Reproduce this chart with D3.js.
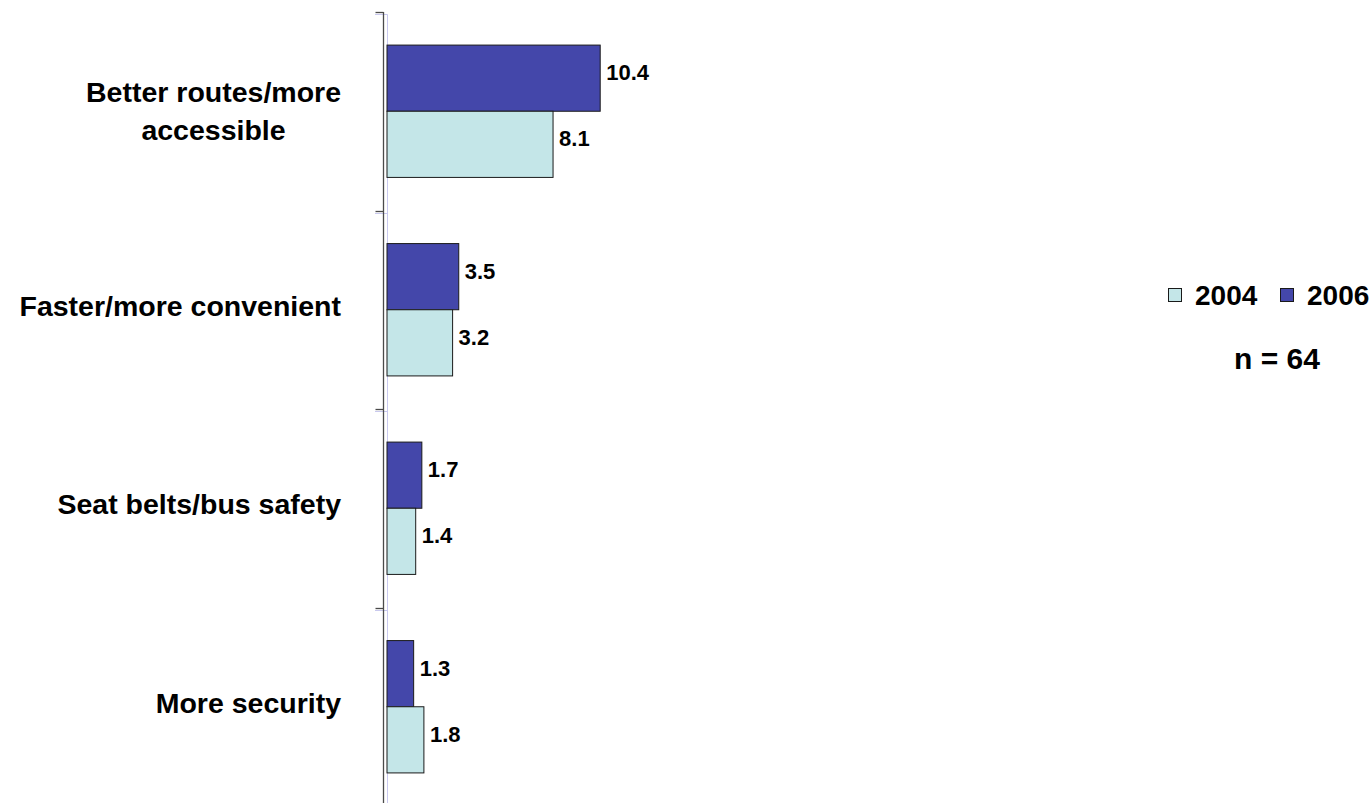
<!DOCTYPE html>
<html>
<head>
<meta charset="utf-8">
<script src="https://cdn.jsdelivr.net/npm/d3@7"></script>
<style>
  html, body { margin: 0; padding: 0; background: #ffffff; }
  svg { display: block; font-family: "Liberation Sans", Arial, sans-serif; font-weight: bold; }
</style>
</head>
<body>
<svg id="chart" width="1371" height="803"></svg>
<script>
// Reasons given, grouped by survey year
const categories = [
  ["Better routes/more", "accessible"],
  ["Faster/more convenient"],
  ["Seat belts/bus safety"],
  ["More security"]
];
const seriesNames = ["2006", "2004"];
const values2006 = [10.4, 3.5, 1.7, 1.3];
const values2004 = [8.1, 3.2, 1.4, 1.8];
const legendOrder = ["2004", "2006"];
const sampleNote = "n = 64";

const colors = { "2006": "#4447aa", "2004": "#c4e6e8" };
const valuesBySeries = { "2006": values2006, "2004": values2004 };

const svg = d3.select("#chart");
const catKeys = categories.map(d => d.join(" "));

// Scales
const y = d3.scaleBand().domain(catKeys).range([12, 806]).paddingInner(0).paddingOuter(0);
const ySub = d3.scaleBand().domain(seriesNames).range([0, y.bandwidth()]).paddingInner(0).paddingOuter(0.5);
const x = d3.scaleLinear().domain([0, 12]).range([387, 633]);

// Faint offset line next to the axis
const ticksY = [y.range()[0]].concat(catKeys.map(k => y(k) + y.bandwidth()));
svg.append("path")
  .attr("d", `M375,${ticksY[0] + 2.5}H387.5V803`)
  .attr("fill", "none").attr("stroke", "#c9c9ee").attr("stroke-width", 1);
catKeys.slice(0, -1).forEach(k => {
  const ty = Math.round(y(k) + y.bandwidth()) + 2.5;
  svg.append("line").attr("x1", 375).attr("x2", 387.5).attr("y1", ty).attr("y2", ty)
    .attr("stroke", "#c9c9ee").attr("stroke-width", 1);
});

// Category axis: vertical line with ticks between categories
const axisG = svg.append("g").attr("transform", "translate(383.5,0)");
axisG.append("line").attr("x1", 0).attr("x2", 0).attr("y1", 12).attr("y2", 803)
  .attr("stroke", "#4a4a4a").attr("stroke-width", 1.3);
ticksY.forEach(t => {
  const ty = Math.round(t) + 0.5;
  axisG.append("line").attr("x1", -8).attr("x2", 0).attr("y1", ty).attr("y2", ty)
    .attr("stroke", "#4a4a4a").attr("stroke-width", 1.3);
});

// Bars
const rows = [];
catKeys.forEach((k, i) => {
  seriesNames.forEach(s => rows.push({ cat: k, series: s, value: valuesBySeries[s][i] }));
});

const barG = svg.append("g");
barG.selectAll("rect").data(rows).join("rect")
  .attr("x", x(0))
  .attr("y", d => y(d.cat) + ySub(d.series))
  .attr("width", d => x(d.value) - x(0))
  .attr("height", ySub.bandwidth())
  .attr("fill", d => colors[d.series])
  .attr("stroke", "#1a1a1a")
  .attr("stroke-width", 1);

// Value labels
barG.selectAll("text").data(rows).join("text")
  .attr("x", d => x(d.value) + 6)
  .attr("y", d => y(d.cat) + ySub(d.series) + ySub.bandwidth() / 2 + 2)
  .attr("font-size", 22)
  .attr("fill", "#000")
  .text(d => d.value.toFixed(1));

// Category labels, lines centred within a right-aligned block
const labelRight = 341;
const lineH = 38;
categories.forEach((lines, i) => {
  const cy = y(catKeys[i]) + y.bandwidth() / 2;
  const g = svg.append("g");
  const texts = lines.map((ln, j) => g.append("text")
    .attr("font-size", 28.5)
    .attr("fill", "#000")
    .attr("text-anchor", "middle")
    .attr("y", cy + 10 + (j - (lines.length - 1) / 2) * lineH - (lines.length === 1 ? 4 : 0))
    .text(ln));
  const maxW = d3.max(texts, t => t.node().getComputedTextLength());
  texts.forEach(t => t.attr("x", labelRight - maxW / 2));
});

// Legend
const legendPos = { "2004": 1168, "2006": 1280 };
const legend = svg.append("g");
legendOrder.forEach(s => {
  legend.append("rect")
    .attr("x", legendPos[s] + 0.5).attr("y", 288.5)
    .attr("width", 13).attr("height", 13)
    .attr("fill", colors[s]).attr("stroke", "#1a1a1a").attr("stroke-width", 1);
  legend.append("text")
    .attr("x", legendPos[s] + 27).attr("y", 305)
    .attr("font-size", 28).attr("fill", "#000")
    .text(s);
});
svg.append("text")
  .attr("x", 1234).attr("y", 369)
  .attr("font-size", 30).attr("fill", "#000")
  .text(sampleNote);
</script>
</body>
</html>
